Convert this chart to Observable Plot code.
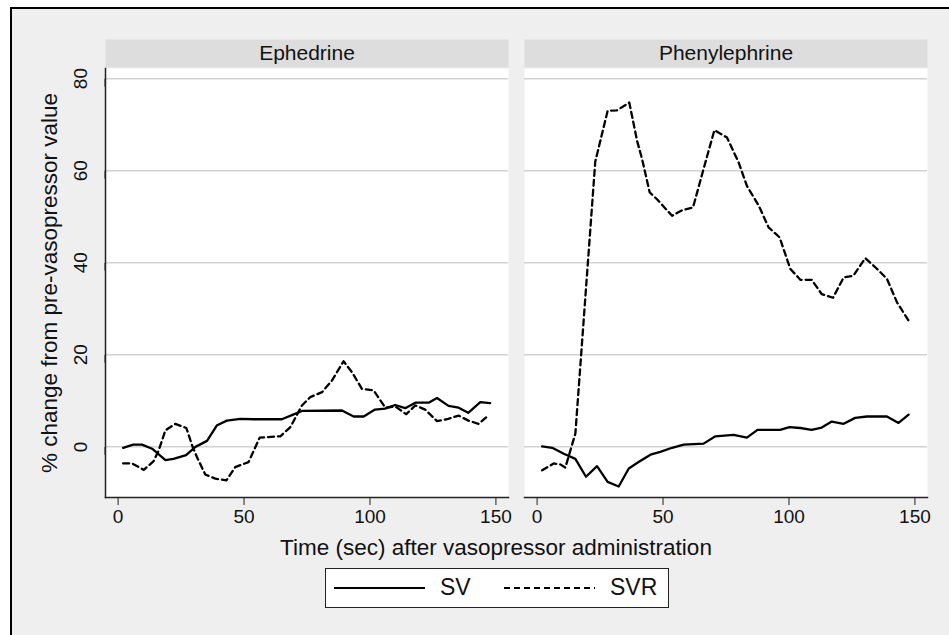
<!DOCTYPE html>
<html>
<head>
<meta charset="utf-8">
<script src="https://cdn.jsdelivr.net/npm/d3@7"></script>
<script src="https://cdn.jsdelivr.net/npm/@observablehq/plot@0.6"></script>
<style>
  html, body { margin: 0; padding: 0; background: #ffffff; }
  body { width: 949px; height: 635px; overflow: hidden; position: relative;
         font-family: "Liberation Sans", Arial, Helvetica, sans-serif; color: #111; }
  #frame { position: absolute; left: 10px; top: 7px; width: 980px; height: 700px;
           box-sizing: border-box; border: 2.5px solid #000; background: #efefef; }
  #chart { position: absolute; left: 0; top: 0; }
  #ytitle { position: absolute; left: 50px; top: 283px; transform: translate(-50%, -50%) rotate(-90deg);
            white-space: nowrap; font-size: 22.5px; }
  #xtitle { position: absolute; left: 496px; top: 548px; transform: translate(-50%, -50%);
            white-space: nowrap; font-size: 22.5px; }
  #legend { position: absolute; left: 325px; top: 568px; width: 344px; height: 40px; box-sizing: border-box;
            border: 1.5px solid #222; background: #fff; }
  #legend .item { position: absolute; top: 0; height: 37px; display: flex; align-items: center; font-size: 23px; }
  #legend svg { display: block; }
</style>
</head>
<body>
<div id="frame"></div>
<div id="chart"></div>
<div id="ytitle"></div>
<div id="xtitle"></div>
<div id="legend"></div>
<script>
// ---- data ----
const panels = ["Ephedrine", "Phenylephrine"];
const seriesNames = ["SV", "SVR"];
const xTicks = [0, 50, 100, 150];
const yTicks = [0, 20, 40, 60, 80];
const xTitle = "Time (sec) after vasopressor administration";
const yTitle = "% change from pre-vasopressor value";

// Ephedrine
const ephTimeSV = [2, 6, 9.5, 13.5, 18.8, 22, 27, 30.7, 35.3, 39.3, 43.2, 48.5, 53.8, 65, 69.5, 73, 88.9, 93.5, 97.5, 102, 106, 110, 114, 118, 123.3, 126.6, 131.2, 135.2, 139, 143.8, 147.7];
const ephSV     = [-0.2, 0.5, 0.5, -0.4, -2.9, -2.6, -1.8, 0, 1.3, 4.7, 5.7, 6.1, 6, 6, 7.0, 7.8, 7.9, 6.6, 6.6, 8.1, 8.3, 9.1, 8.4, 9.6, 9.6, 10.6, 8.9, 8.5, 7.4, 9.7, 9.5];
const ephTimeSVR = [2, 5.6, 10.2, 14.1, 16.1, 18.8, 22.7, 27.1, 29.4, 31.3, 34.6, 38.6, 43, 46.5, 51.8, 56.2, 64.4, 68.4, 73, 76.3, 81, 84.9, 89.5, 92.9, 96.8, 101.4, 106.1, 110, 114.4, 118, 121.9, 126.6, 130.5, 135.2, 139.1, 143.1, 147];
const ephSVR     = [-3.6, -3.6, -5, -3.1, -0.8, 3.6, 5, 4.1, 0.3, -2.2, -6, -6.9, -7.3, -4.4, -3.3, 2, 2.3, 4.3, 9, 10.8, 11.9, 14.4, 18.6, 16.2, 12.6, 12.3, 8.5, 8.8, 7.1, 9, 8.1, 5.6, 6, 6.8, 5.7, 5, 6.8];

// Phenylephrine
const phenTimeSV = [2, 6, 10.6, 15.2, 19.4, 23.8, 28, 32.4, 36.4, 40.3, 45, 48.9, 53.6, 58.2, 66.1, 70.8, 78, 83.3, 87.5, 96.5, 100.2, 104.5, 109, 113, 117, 121.7, 126.3, 131, 138.9, 143.5, 147.5];
const phenSV     = [0.1, -0.2, -1.5, -2.6, -6.5, -4.2, -7.6, -8.6, -4.7, -3.3, -1.7, -1.1, -0.2, 0.5, 0.7, 2.3, 2.6, 2, 3.7, 3.7, 4.3, 4.1, 3.7, 4.2, 5.5, 5, 6.3, 6.6, 6.6, 5.2, 7];
const phenTimeSVR = [2, 6.6, 9.2, 11.2, 13.2, 15.2, 23.1, 24.9, 28, 31.7, 36.6, 39.7, 41.7, 44.7, 47.6, 53.6, 57.5, 61.9, 65.9, 70.4, 75.4, 80, 83.3, 88, 91.9, 96.3, 100.5, 104.5, 109, 113, 117.5, 121.7, 125.6, 130.3, 134.9, 138.9, 142.9, 147.5];
const phenSVR     = [-5.1, -3.6, -3.8, -4.5, -0.8, 2.9, 62, 66, 73, 73.1, 74.8, 66.5, 62.5, 55.3, 53.8, 50.2, 51.4, 52, 60, 68.8, 67.2, 61.8, 56.7, 52.4, 47.7, 45.5, 38.7, 36.3, 36.3, 33.2, 32.4, 36.8, 37.2, 41, 38.7, 36.5, 31.4, 27.4];

// ---- build tables ----
const rows = (panel, ts, vs) => ts.map((t, i) => ({panel, t, v: vs[i]}));
const svRows = [...rows(panels[0], ephTimeSV, ephSV), ...rows(panels[1], phenTimeSV, phenSV)];
const svrRows = [...rows(panels[0], ephTimeSVR, ephSVR), ...rows(panels[1], phenTimeSVR, phenSVR)];

// ---- layout ----
const W = 949, H = 635;
const mTop = 68, mLeft = 105, mRight = 22, mBottom = 138;
const plotH = H - mTop - mBottom;
const stripH = 28;
const dashPattern = "6,4";

const chart = Plot.plot({
  width: W, height: H,
  marginTop: mTop, marginLeft: mLeft, marginRight: mRight, marginBottom: mBottom,
  style: {background: "transparent", fontFamily: "'Liberation Sans', Arial, sans-serif", color: "#111", overflow: "visible"},
  fx: {domain: panels, padding: 16 / 419, axis: null, label: null},
  x: {domain: [-5, 155], label: null},
  y: {domain: [-11, 82.2], label: null},
  marks: [
    Plot.frame({fill: "#ffffff", stroke: "none"}),
    Plot.frame({fill: "#dddddd", stroke: "none", insetTop: -(stripH + 1), insetBottom: plotH + 1}),
    Plot.text(panels, {fx: d => d, text: d => d, frameAnchor: "top", lineAnchor: "middle", dy: -15, fontSize: 21, fill: "#111"}),
    Plot.gridY(yTicks, {stroke: "#d2d2d2", strokeOpacity: 1, strokeWidth: 1.5}),
    Plot.axisY(yTicks, {anchor: "left", tickSize: 8, tickPadding: 11, rotate: -90, textAnchor: "middle", lineAnchor: "bottom", fontSize: 19, label: null, stroke: "#222"}),
    Plot.axisX(xTicks, {anchor: "bottom", tickSize: 8, tickPadding: 4, fontSize: 19, label: null, stroke: "#222"}),
    Plot.frame({anchor: "left", facetAnchor: "left", stroke: "#222", strokeWidth: 1.5}),
    Plot.frame({anchor: "bottom", stroke: "#222", strokeWidth: 1.5}),
    Plot.line(svRows, {x: "t", y: "v", fx: "panel", stroke: "#000", strokeWidth: 2.3}),
    Plot.line(svrRows, {x: "t", y: "v", fx: "panel", stroke: "#000", strokeWidth: 2.3, strokeDasharray: dashPattern})
  ]
});
document.getElementById("chart").appendChild(chart);
document.getElementById("ytitle").textContent = yTitle;
document.getElementById("xtitle").textContent = xTitle;

// ---- legend ----
const legend = d3.select("#legend");
const itemLeft = [8, 178];
seriesNames.forEach((name, i) => {
  const item = legend.append("div").attr("class", "item").style("left", itemLeft[i] + "px");
  const s = item.append("svg").attr("width", 92).attr("height", 10);
  s.append("line").attr("x1", 0).attr("x2", 91).attr("y1", 5).attr("y2", 5)
    .attr("stroke", "#000").attr("stroke-width", 2)
    .attr("stroke-dasharray", i === 1 ? dashPattern : null);
  item.append("span").style("margin-left", "14px").text(name);
});
</script>
</body>
</html>
